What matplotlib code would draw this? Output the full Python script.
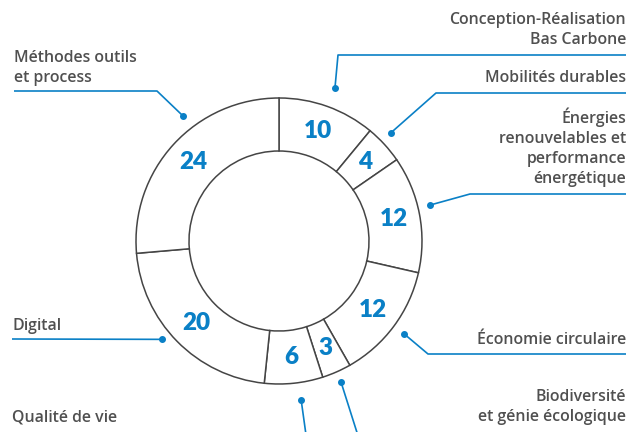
import numpy as np
import matplotlib
matplotlib.use("Agg")
import matplotlib.pyplot as plt

# data: clockwise from the top
labels = ["Conception-Réalisation\nBas Carbone",
          "Mobilités durables",
          "Énergies\nrenouvelables et\nperformance\nénergétique",
          "Économie circulaire",
          "Biodiversité\net génie écologique",
          "Qualité de vie",
          "Digital",
          "Méthodes outils\net process"]
values = [10, 4, 12, 12, 3, 6, 20, 24]

blue = "#0a80c6"
grey = "#505050"
edge = "#454545"

# layout in pixel coords (y down): dot angle offset, dot radius, elbow, line end, text pos, align
layout = [
    dict(off=0.3, r=163, elbow=(338, 55), end=(626, 55), txt=(626, 30), ha="right"),
    dict(off=-1.5, r=156, elbow=(436, 93), end=(626, 93), txt=(626, 78), ha="right"),
    dict(off=-2.5, r=155, elbow=(470, 194), end=(626, 194), txt=(626, 147), ha="right"),
    dict(off=0.0, r=156, elbow=(428, 354), end=(626, 354), txt=(626, 340), ha="right"),
    dict(off=0.0, r=154, elbow=None, end=(360, 442), txt=(626, 407), ha="right"),
    dict(off=-2.0, r=161, elbow=None, end=(307, 442), txt=(12, 418), ha="left"),
    dict(off=4.5, r=153, elbow=None, end=(12, 339), txt=(12, 326), ha="left"),
    dict(off=10.0, r=157, elbow=(157, 91), end=(14, 91), txt=(14, 68), ha="left"),
]

cx, cy = 279, 241
R, r_in = 143, 90

fig = plt.figure(figsize=(6.42, 4.32), dpi=100)
ax = fig.add_axes([0, 0, 1, 1])
wedges, _ = ax.pie(values, center=(cx, cy), radius=R, startangle=270, counterclock=True,
                   wedgeprops=dict(width=R - r_in, facecolor="white", edgecolor=edge, linewidth=1.1))
ax.set_xlim(0, 642)
ax.set_ylim(432, 0)
ax.axis("off")

rmid = (R + r_in) / 2
for w, v, lab, lo in zip(wedges, values, labels, layout):
    mid = np.deg2rad((w.theta1 + w.theta2) / 2)
    ax.text(cx + rmid * np.cos(mid), cy + rmid * np.sin(mid), str(v), color=blue,
            fontsize=17.5, fontweight="heavy", family="Lato", ha="center", va="center")
    a = np.deg2rad((w.theta1 + w.theta2) / 2 + lo["off"])
    dx, dy = cx + lo["r"] * np.cos(a), cy + lo["r"] * np.sin(a)
    xs, ys = [dx], [dy]
    if lo["elbow"] is not None:
        xs.append(lo["elbow"][0]); ys.append(lo["elbow"][1])
    xs.append(lo["end"][0]); ys.append(lo["end"][1])
    ax.plot(xs, ys, color=blue, lw=1.2, solid_capstyle="butt")
    ax.plot(dx, dy, "o", color=blue, ms=4)
    ax.text(lo["txt"][0], lo["txt"][1], lab, color=grey, fontsize=11.4, fontweight="semibold",
            family="Open Sans", ha=lo["ha"], va="center", multialignment=lo["ha"], linespacing=1.32)

fig.savefig("out.png", dpi=100)
